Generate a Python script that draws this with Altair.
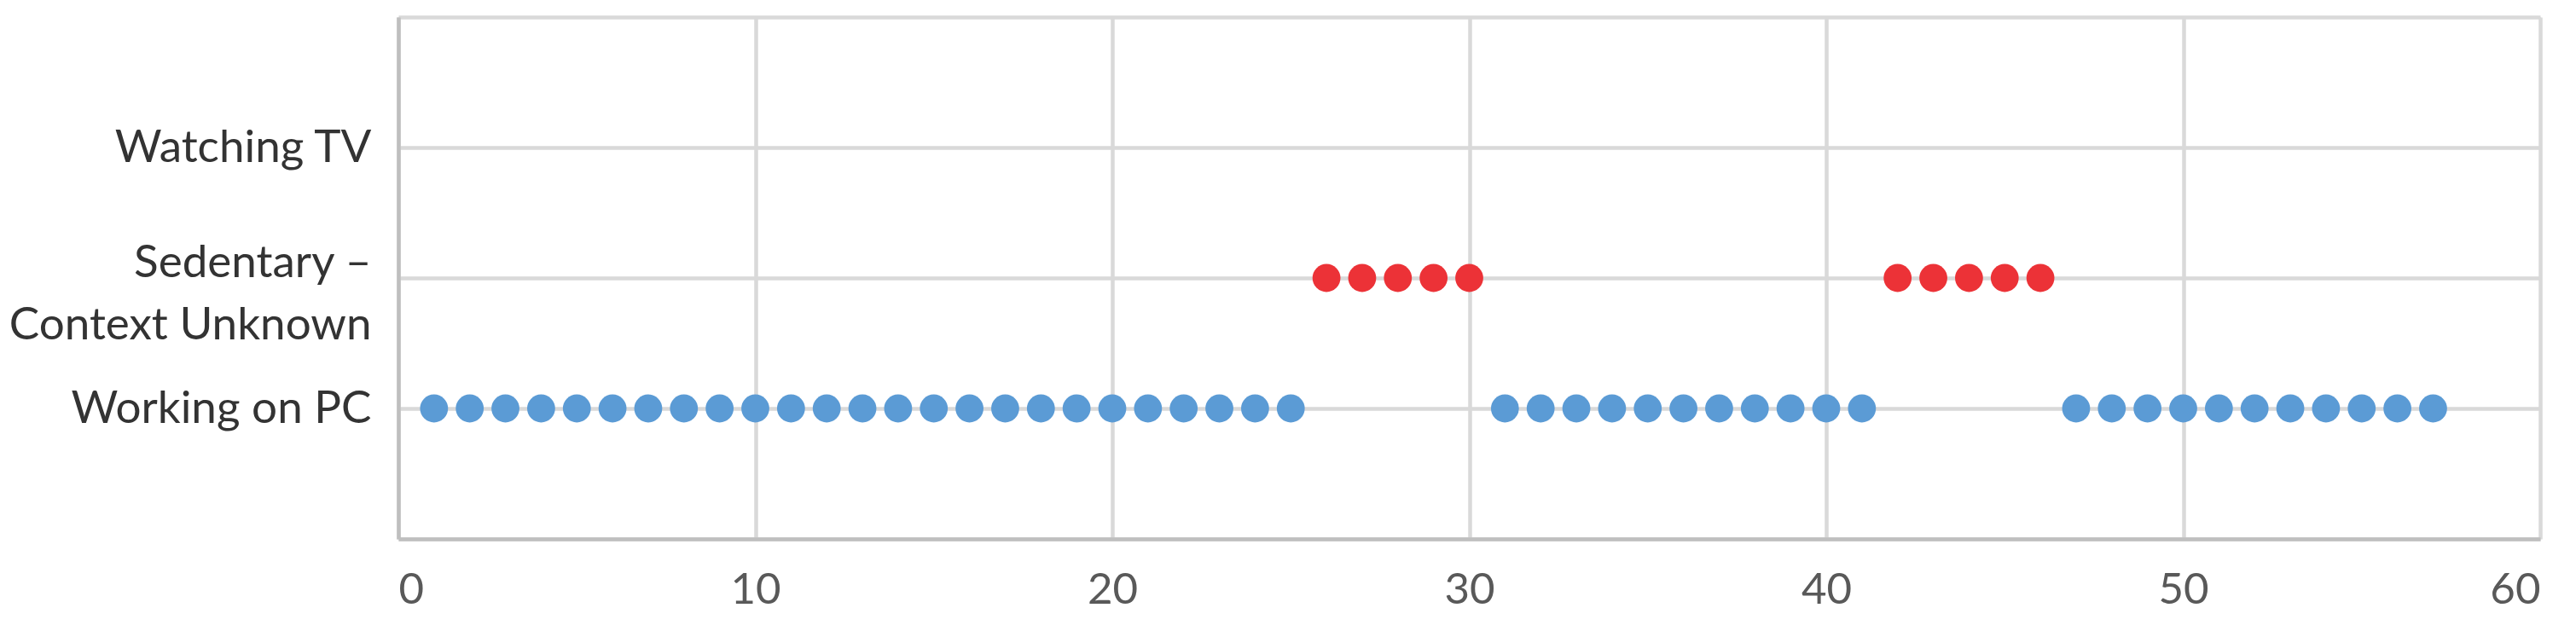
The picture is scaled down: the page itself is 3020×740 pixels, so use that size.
import altair as alt
import pandas as pd

# Activity categories (level on y axis: 1, 2, 3)
activity_levels = [1, 2, 3]
activity_labels = ["Working on PC", "Sedentary – Context Unknown", "Watching TV"]
activity_label_lines = [["Working on PC"], ["Sedentary –", "Context Unknown"], ["Watching TV"]]
activity_colors = ["#5b9bd5", "#ec3237", "#70ad47"]

# Minutes observed in each activity
pc_minutes = [1, 2, 3, 4, 5, 6, 7, 8, 9, 10, 11, 12, 13, 14, 15, 16, 17, 18, 19, 20,
              21, 22, 23, 24, 25,
              31, 32, 33, 34, 35, 36, 37, 38, 39, 40, 41,
              47, 48, 49, 50, 51, 52, 53, 54, 55, 56, 57]
sedentary_minutes = [26, 27, 28, 29, 30, 42, 43, 44, 45, 46]
tv_minutes = []

x_ticks = [0, 10, 20, 30, 40, 50, 60]
y_ticks = [0, 1, 2, 3, 4]

rows = []
for m in pc_minutes:
    rows.append({"minute": m, "level": 1, "activity": activity_labels[0]})
for m in sedentary_minutes:
    rows.append({"minute": m, "level": 2, "activity": activity_labels[1]})
for m in tv_minutes:
    rows.append({"minute": m, "level": 3, "activity": activity_labels[2]})
df = pd.DataFrame(rows)


def js_label(lines):
    if len(lines) == 1:
        return "'" + lines[0] + "'"
    return "[" + ", ".join("'" + s + "'" for s in lines) + "]"


label_expr = ""
for lvl, lines in zip(activity_levels, activity_label_lines):
    label_expr += f"datum.value == {lvl} ? {js_label(lines)} : "
label_expr += "''"

multi_levels = [lvl for lvl, lines in zip(activity_levels, activity_label_lines) if len(lines) > 1]
multi_test = " || ".join(f"datum.value == {lvl}" for lvl in multi_levels)

FONT = "Lato"

chart = alt.Chart(df).mark_circle(size=1075, opacity=1).encode(
    x=alt.X(
        "minute:Q",
        scale=alt.Scale(domain=[0, 60], nice=False, zero=False),
        axis=alt.Axis(
            values=x_ticks,
            title=None,
            ticks=False,
            grid=True,
            gridColor="#d9d9d9",
            gridWidth=4.5,
            domainColor="#bfbfbf",
            domainWidth=4.5,
            labelFont=FONT,
            labelFontSize=51,
            labelColor="#595959",
            labelPadding=60,
            labelBaseline="middle",
        ),
    ),
    y=alt.Y(
        "level:Q",
        scale=alt.Scale(domain=[0, 4], nice=False, zero=False),
        axis=alt.Axis(
            values=y_ticks,
            title=None,
            ticks=False,
            grid=True,
            gridColor="#d9d9d9",
            gridWidth=4.5,
            domainColor="#bfbfbf",
            domainWidth=4.5,
            labelFont=FONT,
            labelFontSize=53,
            labelColor="#333333",
            labelPadding=32,
            labelLimit=1000,
            labelLineHeight=73,
            labelOffset={"condition": {"test": multi_test, "value": -18}, "value": 0},
            labelExpr=label_expr,
        ),
    ),
    color=alt.Color(
        "activity:N",
        scale=alt.Scale(domain=activity_labels, range=activity_colors),
        legend=None,
    ),
).properties(
    width=2511,
    height=612,
    autosize=alt.AutoSizeParams(type="none"),
    padding={"left": 459, "top": 12, "right": 34, "bottom": 100},
).configure_view(strokeWidth=0).configure(background="white")

chart.save("out.html", embed_options={"renderer": "svg", "actions": False})
